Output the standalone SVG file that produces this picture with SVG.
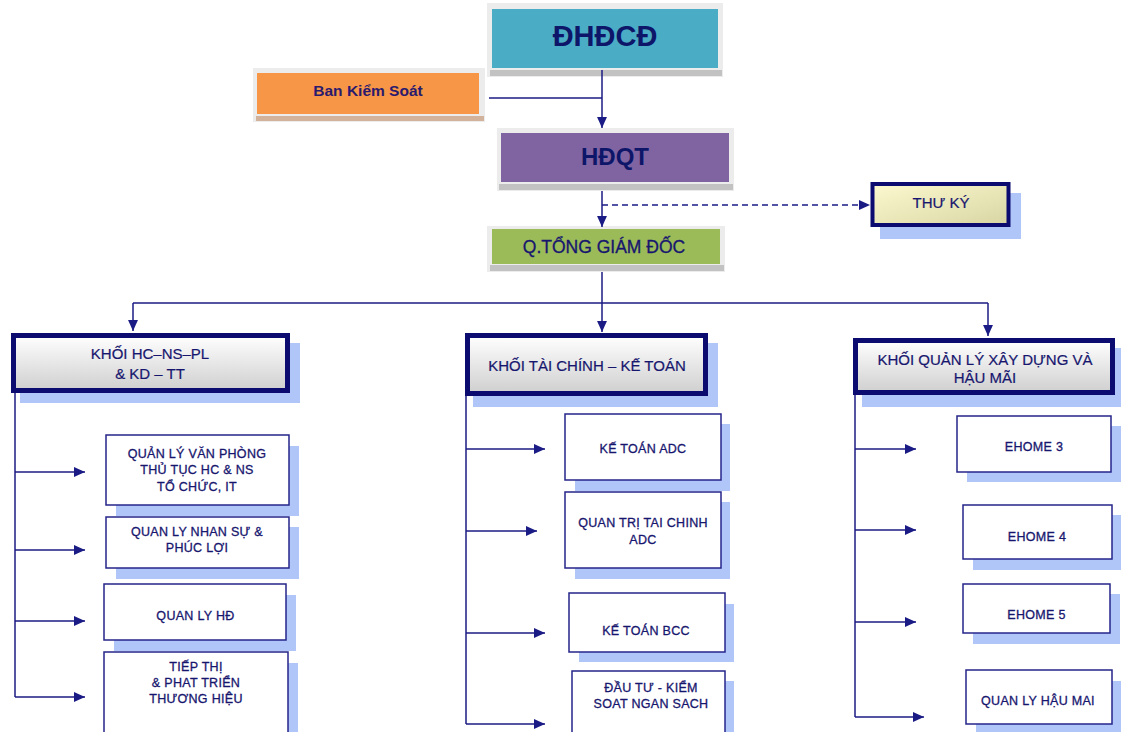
<svg xmlns="http://www.w3.org/2000/svg" width="1121" height="732" viewBox="0 0 1121 732">
  <defs>
    <linearGradient id="gHead" x1="0" y1="0" x2="0" y2="1">
      <stop offset="0" stop-color="#ffffff"/>
      <stop offset="1" stop-color="#cfcfcf"/>
    </linearGradient>
    <linearGradient id="gSec" x1="0" y1="0" x2="1" y2="1">
      <stop offset="0" stop-color="#fcf9cf"/>
      <stop offset="1" stop-color="#d8d5a4"/>
    </linearGradient>
    <marker id="arr" viewBox="0 0 10 10" refX="10" refY="5" markerWidth="11" markerHeight="11" markerUnits="userSpaceOnUse" orient="auto">
      <path d="M0,0.5 L10,5 L0,9.5 Z" fill="#1b1b85"/>
    </marker>
    <style>
      .frame { fill: #ececec; }
      .shade { fill: #c2c2c2; }
      .blue-sh { fill: #b0c6f8; }
      .head { fill: url(#gHead); stroke: #0b0b70; stroke-width: 5; }
      .sub { fill: #ffffff; stroke: #25258a; stroke-width: 1.5; }
      .t { font-family: "Liberation Sans", Arial, sans-serif; fill: #17166e; text-anchor: middle; }
      .tb { font-weight: bold; fill: #0d1668; }
      .hd { font-size: 15px; stroke: #17166e; stroke-width: 0.2; }
      .sm { font-size: 12.5px; letter-spacing: 0.3px; stroke: #17166e; stroke-width: 0.3; }
      .ln { fill: none; stroke: #1b1b85; stroke-width: 1.5; }
      .dash { stroke-dasharray: 6 4; }
    </style>
  </defs>

  <!-- Top level: shareholders' meeting -->
  <g id="dhdcd">
    <rect class="frame" x="487" y="3" width="236" height="74"/>
    <rect class="shade" x="490" y="70" width="232" height="6"/>
    <rect x="492" y="9" width="226" height="59" fill="#4bacc6"/>
    <text class="t tb" x="605" y="46" font-size="29">ĐHĐCĐ</text>
  </g>

  <g id="ban-kiem-soat">
    <rect class="frame" x="253" y="68" width="232" height="54"/>
    <rect x="256" y="116" width="228" height="5" fill="#d2b29a"/>
    <rect x="257" y="73" width="222" height="41" fill="#f79646"/>
    <text class="t tb" x="368" y="95.5" font-size="15.5" style="fill:#2a1a6e">Ban Kiểm Soát</text>
  </g>

  <g id="hdqt">
    <rect class="frame" x="497" y="128" width="237" height="63"/>
    <rect class="shade" x="499" y="184" width="234" height="6"/>
    <rect x="501" y="133" width="228" height="49" fill="#8064a2"/>
    <text class="t tb" x="615" y="165" font-size="24">HĐQT</text>
  </g>

  <g id="thu-ky">
    <rect class="blue-sh" x="880" y="193" width="141" height="46"/>
    <rect x="872.5" y="184" width="136" height="41" fill="url(#gSec)" stroke="#0b0b70" stroke-width="4"/>
    <text class="t hd" x="941" y="208" font-size="14.5">THƯ KÝ</text>
  </g>

  <g id="tong-giam-doc">
    <rect class="frame" x="487" y="226" width="238" height="46"/>
    <rect class="shade" x="490" y="265" width="234" height="6"/>
    <rect x="492" y="229" width="228" height="35" fill="#9bbb59"/>
    <text class="t" x="604" y="253" font-size="17.5" stroke="#17166e" stroke-width="0.3">Q.TỔNG GIÁM ĐỐC</text>
  </g>

  <!-- Division headers -->
  <g id="khoi-hc">
    <rect class="blue-sh" x="20" y="343" width="280" height="60"/>
    <rect class="head" x="13.5" y="335.5" width="274" height="55"/>
    <text class="t hd" x="150" y="359">KHỐI HC–NS–PL</text>
    <text class="t hd" x="150" y="379">&amp; KD – TT</text>
  </g>

  <g id="khoi-tc">
    <rect class="blue-sh" x="473" y="343" width="245" height="64"/>
    <rect class="head" x="467.5" y="335.5" width="238" height="58"/>
    <text class="t hd" x="587" y="371">KHỐI TÀI CHÍNH  –  KẾ TOÁN</text>
  </g>

  <g id="khoi-xd">
    <rect class="blue-sh" x="862" y="348" width="259" height="59"/>
    <rect class="head" x="855.5" y="340.5" width="257" height="52"/>
    <text class="t hd" x="985" y="365">KHỐI QUẢN LÝ XÂY DỰNG VÀ</text>
    <text class="t hd" x="985" y="383">HẬU MÃI</text>
  </g>

  <!-- Left column units -->
  <g id="van-phong">
    <rect class="blue-sh" x="116" y="446" width="183" height="70"/>
    <rect class="sub" x="106" y="435" width="183" height="70"/>
    <text class="t sm" x="197" y="457.5">QUẢN LÝ VĂN PHÒNG</text>
    <text class="t sm" x="197" y="474">THỦ TỤC HC &amp; NS</text>
    <text class="t sm" x="197" y="490.5">TỔ CHỨC,  IT</text>
  </g>

  <g id="nhan-su">
    <rect class="blue-sh" x="116" y="527" width="183" height="52"/>
    <rect class="sub" x="106" y="517" width="183" height="51"/>
    <text class="t sm" x="197" y="535.5">QUAN LY NHAN SỰ &amp;</text>
    <text class="t sm" x="197" y="551.5">PHÚC LỢI</text>
  </g>

  <g id="quan-ly-hd">
    <rect class="blue-sh" x="114" y="595" width="182" height="56"/>
    <rect class="sub" x="104" y="584" width="182" height="56"/>
    <text class="t sm" x="195.5" y="619.5">QUAN LY HĐ</text>
  </g>

  <g id="tiep-thi">
    <rect class="blue-sh" x="114" y="663" width="184" height="80"/>
    <rect class="sub" x="104" y="652" width="184" height="90"/>
    <text class="t sm" x="196" y="670.5">TIẾP THỊ</text>
    <text class="t sm" x="196" y="686.5">&amp; PHAT TRIỂN</text>
    <text class="t sm" x="196" y="702.5">THƯƠNG HIỆU</text>
  </g>

  <!-- Middle column units -->
  <g id="ke-toan-adc">
    <rect class="blue-sh" x="575" y="424" width="155" height="67"/>
    <rect class="sub" x="565" y="414" width="156" height="66"/>
    <text class="t sm" x="643" y="452.5">KẾ TOÁN ADC</text>
  </g>

  <g id="quan-tri-tc">
    <rect class="blue-sh" x="575" y="502" width="155" height="77"/>
    <rect class="sub" x="565" y="492" width="156" height="76"/>
    <text class="t sm" x="643" y="527">QUAN TRỊ TAI CHINH</text>
    <text class="t sm" x="643" y="543.5">ADC</text>
  </g>

  <g id="ke-toan-bcc">
    <rect class="blue-sh" x="579" y="604" width="155" height="58"/>
    <rect class="sub" x="569" y="593" width="156" height="59"/>
    <text class="t sm" x="646" y="635">KẾ TOÁN BCC</text>
  </g>

  <g id="dau-tu">
    <rect class="blue-sh" x="582" y="681" width="152" height="60"/>
    <rect class="sub" x="572" y="671" width="153" height="70"/>
    <text class="t sm" x="651" y="691.5">ĐẦU TƯ - KIỂM</text>
    <text class="t sm" x="651" y="707.5">SOAT NGAN SACH</text>
  </g>

  <!-- Right column units -->
  <g id="ehome-3">
    <rect class="blue-sh" x="967" y="426" width="154" height="56"/>
    <rect class="sub" x="957" y="416" width="154" height="56"/>
    <text class="t sm" x="1034" y="450.5">EHOME 3</text>
  </g>

  <g id="ehome-4">
    <rect class="blue-sh" x="973" y="515" width="148" height="55"/>
    <rect class="sub" x="963" y="505" width="149" height="54"/>
    <text class="t sm" x="1037" y="540.5">EHOME 4</text>
  </g>

  <g id="ehome-5">
    <rect class="blue-sh" x="973" y="594" width="147" height="50"/>
    <rect class="sub" x="963" y="584" width="147" height="49"/>
    <text class="t sm" x="1036.5" y="619">EHOME 5</text>
  </g>

  <g id="hau-mai">
    <rect class="blue-sh" x="976" y="681" width="145" height="51"/>
    <rect class="sub" x="966" y="670" width="146" height="54"/>
    <text class="t sm" x="1038" y="705">QUAN LY HẬU MAI</text>
  </g>

  <!-- Connectors -->
  <g id="connectors">
    <path class="ln" d="M602,70 V128" marker-end="url(#arr)"/>
    <path class="ln" d="M489,98 H602"/>
    <path class="ln" d="M602,191 V227" marker-end="url(#arr)"/>
    <path class="ln dash" d="M602,205 H870" marker-end="url(#arr)"/>
    <path class="ln" d="M602,272 V303"/>
    <path class="ln" d="M133,303 H988"/>
    <path class="ln" d="M133,303 V331" marker-end="url(#arr)"/>
    <path class="ln" d="M602,303 V332" marker-end="url(#arr)"/>
    <path class="ln" d="M988,303 V336" marker-end="url(#arr)"/>

    <path class="ln" d="M15,393 V697"/>
    <path class="ln" d="M15,472 H85" marker-end="url(#arr)"/>
    <path class="ln" d="M15,550 H85" marker-end="url(#arr)"/>
    <path class="ln" d="M15,621 H85" marker-end="url(#arr)"/>
    <path class="ln" d="M15,697 H85" marker-end="url(#arr)"/>

    <path class="ln" d="M466,396 V724"/>
    <path class="ln" d="M466,449 H545" marker-end="url(#arr)"/>
    <path class="ln" d="M466,531 H537" marker-end="url(#arr)"/>
    <path class="ln" d="M466,633 H545" marker-end="url(#arr)"/>
    <path class="ln" d="M466,724 H545" marker-end="url(#arr)"/>

    <path class="ln" d="M855,395 V717"/>
    <path class="ln" d="M855,449 H916" marker-end="url(#arr)"/>
    <path class="ln" d="M855,530 H916" marker-end="url(#arr)"/>
    <path class="ln" d="M855,622 H916" marker-end="url(#arr)"/>
    <path class="ln" d="M855,717 H924" marker-end="url(#arr)"/>
  </g>
</svg>
